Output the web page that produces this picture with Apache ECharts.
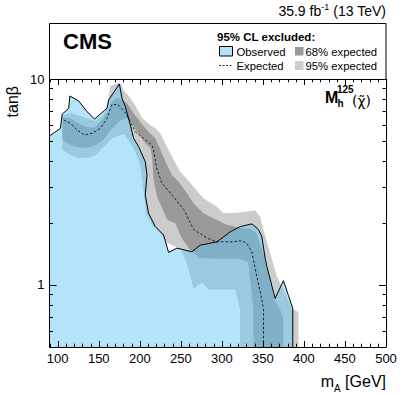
<!DOCTYPE html>
<html>
<head>
<meta charset="utf-8">
<script src="https://cdn.jsdelivr.net/npm/echarts@6/dist/echarts.min.js"></script>
<style>
  html, body { margin: 0; padding: 0; background: #fff; }
  #chart { width: 411px; height: 395px; }
</style>
</head>
<body>
<div id="chart"></div>
<script>
// ==============================================================
// data (mA in GeV, tan beta)
// ==============================================================

// observed excluded contour
var obsMA = [90, 96.4, 103.3, 105.4, 113.4, 114.8, 125.6, 135.8, 145, 160.1, 162.1, 175.1, 178.4, 182.4, 188.5, 192.5, 198.6, 206.7, 208.8, 206.7, 210.7, 218.9, 229, 235.1, 245.3, 263.5, 273.6, 294, 310.1, 322.3, 336.5, 344.6, 348.7, 352.7, 354.8, 364.9, 375, 381.1, 386.4, 386.4];
var obsTB = [5.29, 5.51, 5.76, 6.74, 7.21, 8.27, 7.82, 6.94, 6.39, 7.21, 7.91, 9.46, 8.06, 7.34, 5.98, 5.15, 4.69, 3.97, 3.42, 2.73, 2.23, 1.92, 1.75, 1.44, 1.51, 1.45, 1.56, 1.62, 1.81, 1.92, 1.98, 1.86, 1.72, 1.35, 1.23, 0.86, 1.05, 0.89, 0.77, 0.5];

// median expected
var expMA = [107.3, 115.5, 123.6, 132.9, 141.9, 152, 160.1, 166.2, 174.2, 182.4, 188.5, 194.5, 204.6, 214.9, 216.8, 220.1, 227, 241.2, 254.2, 265.5, 281.8, 294, 312.2, 324.4, 330.5, 336.5, 342.6, 348.7, 350.7, 350.7];
var expTB = [6.32, 6.10, 5.65, 5.35, 5.45, 5.76, 6.45, 7.54, 7.48, 6.82, 6.21, 5.55, 5.15, 4.78, 4.52, 3.75, 3.12, 2.68, 2.31, 1.86, 1.69, 1.62, 1.62, 1.64, 1.59, 1.45, 1.10, 0.85, 0.76, 0.5];

// +2 sigma / -2 sigma contours (95% band edges)
var p2MA = [105.7, 115.5, 127.6, 137.4, 145.9, 154.4, 159.3, 164.2, 172.6, 177.5, 180.3, 188.5, 195.8, 202.7, 212.8, 218.9, 225, 229, 235.1, 241.2, 249.4, 265.5, 277.6, 294, 302, 318.3, 340.5, 346.6, 350.7, 358.9, 367, 375, 385.2, 393.3, 393.3];
var p2TB = [6.65, 6.84, 6.61, 6.39, 6.25, 6.61, 7.0, 9.25, 9.56, 9.46, 8.84, 8.09, 7.31, 6.47, 5.98, 5.76, 5.45, 5.06, 4.52, 4.05, 3.55, 3.0, 2.64, 2.40, 2.23, 2.24, 2.30, 2.15, 1.85, 1.43, 1.10, 0.95, 0.77, 0.74, 0.5];
var m2MA = [105.7, 115.5, 125.2, 137.4, 145.9, 152, 160.5, 166.6, 173.9, 181.2, 186, 193.3, 200.6, 204.3, 207.9, 215.2, 224.9, 233.5, 244.4, 250.5, 257.5, 265.5, 275.7, 283.7, 316.2, 322.3, 322.3];
var m2TB = [4.52, 4.28, 4.14, 4.14, 4.28, 4.52, 4.89, 5.17, 5.29, 5.41, 5.06, 4.52, 3.82, 2.89, 2.19, 1.96, 1.79, 1.60, 1.53, 1.48, 1.27, 0.96, 1.03, 0.95, 0.95, 0.76, 0.5];

// +1 sigma / -1 sigma contours (68% band edges)
var p1MA = [105.7, 115.5, 125.2, 135, 144.7, 154.4, 161.7, 167.8, 175.1, 184.4, 192.5, 200.6, 210.7, 218.9, 227, 233.1, 239.2, 247.3, 257.5, 265.5, 277.7, 294, 306.1, 322.3, 334.5, 341.8, 349.1, 356.4, 363.7, 371, 375, 375];
var p1TB = [6.5, 6.45, 6.1, 5.85, 5.8, 6.32, 7.07, 7.91, 8.09, 7.62, 6.82, 6.18, 5.53, 5.15, 4.36, 3.82, 3.42, 3.17, 2.79, 2.49, 2.23, 2.07, 1.96, 1.89, 1.87, 1.79, 1.48, 1.12, 0.85, 0.76, 0.68, 0.5];
var m1MA = [105.7, 117.9, 132.5, 144.7, 155.6, 164.2, 171.4, 177.5, 183.6, 190.5, 196.6, 206.7, 212.8, 214.9, 216.8, 221.3, 227.4, 233.5, 243.2, 250.5, 261.5, 273.6, 297.9, 322.3, 332, 336.5, 338.5, 338.5];
var m1TB = [5.06, 4.73, 4.62, 4.73, 5.06, 5.65, 6.05, 6.32, 6.47, 6.10, 5.55, 4.87, 4.61, 4.20, 3.23, 2.67, 2.36, 2.07, 2.00, 1.71, 1.48, 1.35, 1.34, 1.34, 1.29, 0.91, 0.76, 0.5];

// axis ranges and ticks
var xMin = 90, xMax = 500;
var yMin = 0.5, yMax = 10;
var xMajor = [100, 150, 200, 250, 300, 350, 400, 450, 500];
var xMinor = [90, 110, 120, 130, 140, 160, 170, 180, 190, 210, 220, 230, 240, 260, 270, 280, 290, 310, 320, 330, 340, 360, 370, 380, 390, 410, 420, 430, 440, 460, 470, 480, 490];
var yMajor = [1, 10];
var yMinor = [0.6, 0.7, 0.8, 0.9, 2, 3, 4, 5, 6, 7, 8, 9];

var FONT = "'Liberation Sans', Arial, Helvetica, sans-serif";
var LIGHT_BLUE = 'rgb(179,228,250)';

function pairs(xs, ys) {
  return xs.map(function (x, i) { return [x, ys[i]]; });
}

// closed band between an outer and an inner contour
function band(outX, outY, inX, inY) {
  return pairs(outX, outY).concat(pairs(inX, inY).reverse());
}

function polygonSeries(name, pts, style, z) {
  return {
    type: 'custom',
    name: name,
    z: z,
    silent: true,
    data: pts,
    encode: { x: 0, y: 1 },
    renderItem: function (params, api) {
      if (params.dataIndex !== 0) return null;
      return {
        type: 'polygon',
        shape: { points: pts.map(function (p) { return api.coord(p); }) },
        style: style
      };
    }
  };
}

// tick marks on all four sides, pointing into the frame
var tickData = []
  .concat(xMajor.map(function (v) { return [v, yMin, 6, 0]; }))
  .concat(xMinor.map(function (v) { return [v, yMin, 3.3, 0]; }))
  .concat(yMajor.map(function (v) { return [xMin, v, 7, 1]; }))
  .concat(yMinor.map(function (v) { return [xMin, v, 3.5, 1]; }));

function tickItem(params, api) {
  var v = tickData[params.dataIndex];
  var len = v[2];
  var st = { stroke: '#000', lineWidth: 1 };
  if (v[3] === 0) {
    var b = api.coord([v[0], yMin]);
    var t = api.coord([v[0], yMax]);
    var x = Math.round(b[0]) + 0.5;
    return { type: 'group', children: [
      { type: 'line', shape: { x1: x, y1: b[1], x2: x, y2: b[1] - len }, style: st },
      { type: 'line', shape: { x1: x, y1: t[1], x2: x, y2: t[1] + len }, style: st }
    ] };
  }
  var l = api.coord([xMin, v[1]]);
  var r = api.coord([xMax, v[1]]);
  var y = Math.round(l[1]) + 0.5;
  return { type: 'group', children: [
    { type: 'line', shape: { x1: l[0], y1: y, x2: l[0] + len, y2: y }, style: st },
    { type: 'line', shape: { x1: r[0], y1: y, x2: r[0] - len, y2: y }, style: st }
  ] };
}

var myChart = echarts.init(document.getElementById('chart'), null, { renderer: 'svg' });

var option = {
  animation: false,
  backgroundColor: '#fff',
  grid: { left: 49.5, right: 25, top: 79, bottom: 48, containLabel: false },
  xAxis: [
    {
      type: 'value', position: 'bottom', min: xMin, max: xMax, z: 10,
      axisLine: { show: true, onZero: false, lineStyle: { color: '#000', width: 1 } },
      axisTick: { show: false },
      axisLabel: { customValues: xMajor, margin: 5, color: '#000', fontSize: 13, fontFamily: FONT },
      splitLine: { show: false }
    },
    {
      type: 'value', position: 'top', min: xMin, max: xMax, z: 10,
      axisLine: { show: true, onZero: false, lineStyle: { color: '#000', width: 1 } },
      axisTick: { show: false }, axisLabel: { show: false }, splitLine: { show: false }
    }
  ],
  yAxis: [
    {
      type: 'log', logBase: 10, position: 'left', min: yMin, max: yMax, z: 10,
      axisLine: { show: true, onZero: false, lineStyle: { color: '#000', width: 1 } },
      axisTick: { show: false },
      axisLabel: { customValues: yMajor, margin: 5, color: '#000', fontSize: 13, fontFamily: FONT },
      splitLine: { show: false }, minorTick: { show: false }
    },
    {
      type: 'log', logBase: 10, position: 'right', min: yMin, max: yMax, z: 10,
      axisLine: { show: true, onZero: false, lineStyle: { color: '#000', width: 1 } },
      axisTick: { show: false }, axisLabel: { show: false }, splitLine: { show: false }, minorTick: { show: false }
    }
  ],
  series: [
    polygonSeries('95% expected', band(p2MA, p2TB, m2MA, m2TB), { fill: '#cccccc' }, 1),
    polygonSeries('68% expected', band(p1MA, p1TB, m1MA, m1TB), { fill: '#999999' }, 2),
    polygonSeries('Observed', pairs(obsMA, obsTB).concat([[xMin, yMin]]), { fill: 'rgba(100,200,245,0.49)' }, 3),
    {
      type: 'line', name: 'Expected', z: 4, silent: true,
      data: pairs(expMA, expTB),
      symbol: 'none',
      lineStyle: { color: '#222', width: 1, type: [2.5, 2] }
    },
    {
      type: 'line', name: 'Observed line', z: 5, silent: true,
      data: pairs(obsMA, obsTB),
      symbol: 'none',
      lineStyle: { color: '#000', width: 1 }
    },
    {
      type: 'custom', name: 'ticks', z: 20, silent: true, clip: false,
      data: tickData, encode: { x: 0, y: 1 },
      renderItem: tickItem
    }
  ],
  graphic: [
    // box above the plot holding CMS label and legend
    { type: 'rect', z: 0, shape: { x: 49.5, y: 23.5, width: 336.5, height: 56 }, style: { fill: '#fff', stroke: '#000', lineWidth: 1 } },
    { type: 'text', x: 386, y: 20, style: { text: '35.9 fb{s|-1} (13 TeV)', align: 'right', verticalAlign: 'bottom', font: '14px ' + FONT, fill: '#000', lineHeight: 18,
        rich: { s: { fontSize: 9, fontFamily: FONT, verticalAlign: 'top', lineHeight: 9 } } } },
    { type: 'text', x: 63, y: 41, style: { text: 'CMS', verticalAlign: 'middle', font: 'bold 22px ' + FONT, fill: '#000' } },
    { type: 'text', x: 217, y: 36.5, style: { text: '95% CL excluded:', verticalAlign: 'middle', font: 'bold 11.5px ' + FONT, fill: '#000' } },
    { type: 'rect', shape: { x: 219.5, y: 46.5, width: 13, height: 9.5 }, style: { fill: LIGHT_BLUE, stroke: '#000', lineWidth: 1 } },
    { type: 'text', x: 236.5, y: 51.5, style: { text: 'Observed', verticalAlign: 'middle', font: '11.3px ' + FONT, fill: '#000' } },
    { type: 'rect', shape: { x: 295, y: 47, width: 8.5, height: 8.5 }, style: { fill: '#999999' } },
    { type: 'text', x: 305.5, y: 51.5, style: { text: '68% expected', verticalAlign: 'middle', font: '11.3px ' + FONT, fill: '#000' } },
    { type: 'line', shape: { x1: 219, y1: 65.5, x2: 232.5, y2: 65.5 }, style: { stroke: '#333', lineWidth: 1, lineDash: [2, 1.5] } },
    { type: 'text', x: 236.5, y: 65.5, style: { text: 'Expected', verticalAlign: 'middle', font: '11.3px ' + FONT, fill: '#000' } },
    { type: 'rect', shape: { x: 295, y: 61, width: 8.5, height: 9 }, style: { fill: '#cccccc' } },
    { type: 'text', x: 305.5, y: 65.5, style: { text: '95% expected', verticalAlign: 'middle', font: '11.3px ' + FONT, fill: '#000' } },
    // model label inside the plot
    { type: 'text', x: 325, y: 105.5, z: 30, style: { text: 'M', verticalAlign: 'bottom', font: 'bold 16px ' + FONT, fill: '#000' } },
    { type: 'text', x: 337, y: 94, z: 30, style: { text: '125', verticalAlign: 'bottom', font: 'bold 10px ' + FONT, fill: '#000' } },
    { type: 'text', x: 337.5, y: 108.5, z: 30, style: { text: 'h', verticalAlign: 'bottom', font: 'bold 10px ' + FONT, fill: '#000' } },
    { type: 'text', x: 352, y: 107.5, z: 30, style: { text: '(\u03C7\u0303)', verticalAlign: 'bottom', font: "14px 'DejaVu Sans', sans-serif", fill: '#000' } },
    // axis titles
    { type: 'text', x: 386, y: 389, style: { text: 'm{s|A} [GeV]', align: 'right', verticalAlign: 'bottom', font: '16px ' + FONT, fill: '#000', lineHeight: 16,
        rich: { s: { fontSize: 10, fontFamily: FONT, verticalAlign: 'bottom', lineHeight: 10, padding: [0, 0, -4, 0] } } } },
    { type: 'text', x: 12, y: 86, rotation: Math.PI / 2, style: { text: 'tan\u03B2', align: 'right', verticalAlign: 'middle', font: '16px ' + FONT, fill: '#000' } }
  ]
};

myChart.setOption(option, true);
</script>
</body>
</html>
